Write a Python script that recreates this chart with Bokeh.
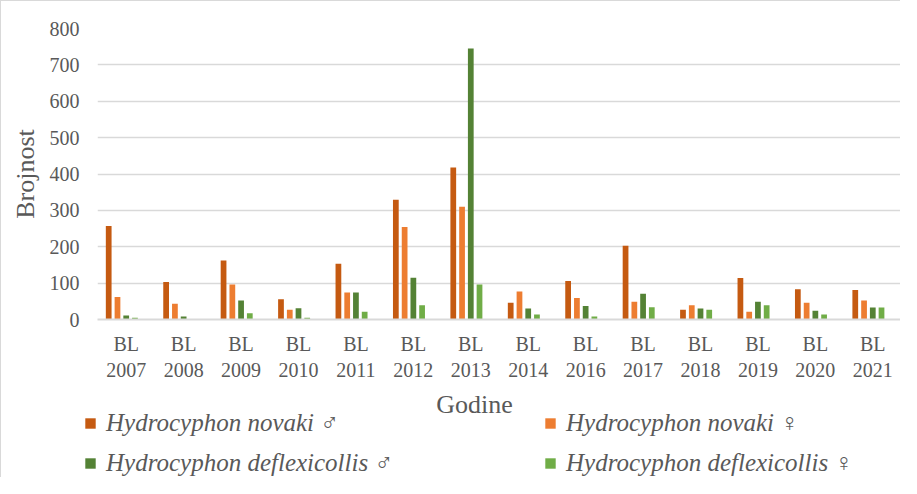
from bokeh.plotting import figure
from bokeh.models import ColumnDataSource, Legend, LegendItem, FactorRange, Label, Range1d
from bokeh.transform import dodge
from bokeh.embed import file_html
from bokeh.resources import INLINE

categories = ["BL 2007", "BL 2008", "BL 2009", "BL 2010", "BL 2011", "BL 2012", "BL 2013",
              "BL 2014", "BL 2016", "BL 2017", "BL 2018", "BL 2019", "BL 2020", "BL 2021"]
novaki_m = [257, 103, 162, 56, 153, 329, 418, 46, 106, 203, 27, 114, 83, 81]
novaki_f = [62, 43, 96, 27, 74, 254, 310, 77, 59, 49, 39, 21, 46, 52]
deflex_m = [11, 8, 52, 31, 74, 115, 745, 30, 37, 71, 30, 49, 24, 33]
deflex_f = [5, 0, 17, 5, 21, 39, 96, 14, 8, 34, 27, 39, 14, 33]
series_names = ["Hydrocyphon novaki \u2642", "Hydrocyphon novaki \u2640",
                "Hydrocyphon deflexicollis \u2642", "Hydrocyphon deflexicollis \u2640"]
y_ticks = [0, 100, 200, 300, 400, 500, 600, 700, 800]
x_title = "Godine"
y_title = "Brojnost"

colors = ["#C55A11", "#ED7D31", "#548235", "#70AD47"]
offsets = [-0.305, -0.152, 0.0, 0.152]
keys = ["nm", "nf", "dm", "df"]
FONT = "Liberation Serif"
GREY = "#595959"

factors = [c.replace(" ", "\n") for c in categories]
src = ColumnDataSource(dict(cat=factors, nm=novaki_m, nf=novaki_f, dm=deflex_m, df=deflex_f))

# ---------------- main chart ----------------
p = figure(width=900, height=390, x_range=FactorRange(*factors), y_range=(0, 800),
           output_backend="svg", toolbar_location=None,
           min_border_top=27, min_border_left=96, min_border_right=0, min_border_bottom=72)
p.styles = {"border-left": "1px solid #d9d9d9", "border-top": "1px solid #d9d9d9"}
p.outline_line_color = None
p.x_range.range_padding = 0

for key, col, off in zip(keys, colors, offsets):
    p.vbar(x=dodge("cat", off, range=p.x_range), top=key, width=0.1, source=src,
           fill_color=col, line_color=None)

p.yaxis.ticker = y_ticks
p.yaxis.axis_line_color = None
p.yaxis.major_tick_line_color = None
p.yaxis.major_tick_out = 0
p.yaxis.minor_tick_line_color = None
p.yaxis.major_label_standoff = 18
p.yaxis.major_label_text_font = FONT
p.yaxis.major_label_text_font_size = "20px"
p.yaxis.major_label_text_color = GREY
p.yaxis.axis_label = y_title
p.yaxis.axis_label_text_font = FONT
p.yaxis.axis_label_text_font_size = "26px"
p.yaxis.axis_label_text_font_style = "normal"
p.yaxis.axis_label_text_color = GREY
p.yaxis.axis_label_standoff = 7

p.xaxis.axis_line_color = "#d9d9d9"
p.xaxis.axis_line_width = 2
p.xaxis.major_tick_line_color = None
p.xaxis.major_tick_out = 0
p.xaxis.minor_tick_line_color = None
p.xaxis.major_label_standoff = 13
p.xaxis.major_label_text_font = FONT
p.xaxis.major_label_text_font_size = "20px"
p.xaxis.major_label_text_color = GREY

p.xgrid.grid_line_color = None
p.ygrid.grid_line_color = "#d9d9d9"
p.ygrid.grid_line_width = 1.5

# ---------------- axis title + legend strip ----------------
p2 = figure(width=900, height=87, output_backend="svg", toolbar_location=None,
            x_range=FactorRange(*factors), y_range=Range1d(2000, 3000),
            x_axis_location=None, y_axis_location=None,
            min_border_top=0, min_border_left=0, min_border_right=0, min_border_bottom=0)
p2.styles = {"border-left": "1px solid #d9d9d9"}
p2.outline_line_color = None
p2.grid.visible = False

# same series as square markers lying outside this strip's visible range:
# they only supply the square legend swatches
swatches = []
for key, col, off in zip(keys, colors, offsets):
    r = p2.scatter(x=dodge("cat", off, range=p2.x_range), y=key, source=src,
                   marker="square", size=10, fill_color=col, line_color=None)
    swatches.append(r)

p2.add_layout(Label(x=473, y=73, x_units="screen", y_units="screen", text=x_title,
                    text_align="center", text_baseline="middle", text_font=FONT,
                    text_font_size="26px", text_color=GREY))

items = [LegendItem(label=n, renderers=[r]) for n, r in zip(series_names, swatches)]
legend = Legend(items=items, location=(76, 0), orientation="horizontal", ncols=2,
                glyph_width=26, glyph_height=26, label_standoff=3, label_width=419,
                label_height=28, spacing=12, padding=0, margin=0,
                border_line_color=None, background_fill_alpha=0,
                label_text_font=FONT, label_text_font_size="25px",
                label_text_font_style="italic", label_text_color=GREY)
p2.add_layout(legend, "center")

open("out.html", "w").write(file_html([p, p2], INLINE))
